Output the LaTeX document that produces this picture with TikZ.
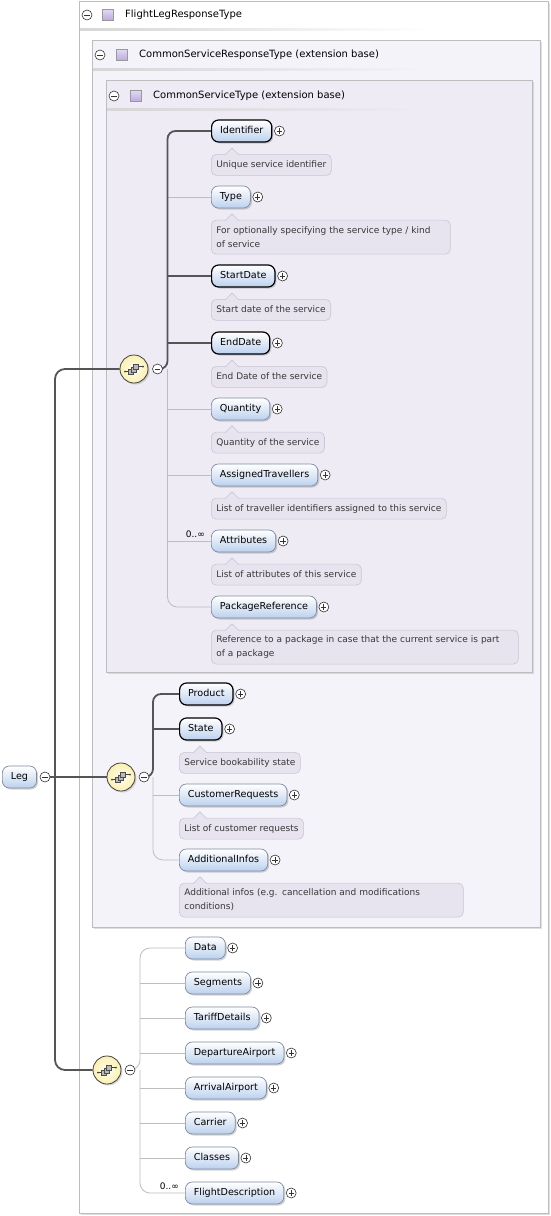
\documentclass[tikz,border=0pt]{standalone}
\usepackage{fontspec}
\newfontfamily\dv{DejaVu Sans}
\usetikzlibrary{shadows,calc}
\pgfdeclarelayer{bg}
\pgfdeclarelayer{lines}
\pgfsetlayers{bg,lines,main}
\definecolor{elembot}{HTML}{BCD1EE}
\definecolor{elemborder}{HTML}{7F8CA0}
\definecolor{docfill}{HTML}{E7E3EF}
\definecolor{docborder}{HTML}{C9C5D5}
\definecolor{boxAfill}{HTML}{FFFFFF}
\definecolor{boxBfill}{HTML}{F5F3FA}
\definecolor{boxCfill}{HTML}{EEEBF5}
\definecolor{boxborder}{HTML}{BDBDBD}
\definecolor{mandline}{HTML}{555555}
\definecolor{optline}{HTML}{BDBDBD}
\definecolor{seqin}{HTML}{FFFEF0}
\definecolor{seqout}{HTML}{FBF0B0}
\definecolor{squarefill}{HTML}{BBA9E0}
\tikzset{
  base/.style={font=\dv\fontsize{9}{11}\selectfont},
  elem/.style={font=\dv\fontsize{9.6}{11}\selectfont, rounded corners=7pt, minimum height=22pt, inner xsep=8.5pt, inner ysep=0pt,
    top color=white, bottom color=elembot, draw=elemborder, line width=0.7pt,
    drop shadow={shadow xshift=1.5pt, shadow yshift=-1.5pt, opacity=0.35},
    anchor=west, text height=7pt, text depth=2pt},
  reqelem/.style={elem, draw=black, line width=1.2pt},
  doc/.style={base, rounded corners=5pt, fill=docfill, draw=docborder, line width=0.6pt,
    anchor=north west, inner xsep=5pt, inner ysep=3pt, minimum height=21pt, text=black!78,
    align=left, text height=7pt, text depth=2pt},
  doctwo/.style={doc, text width=#1, minimum height=34pt, text height=, text depth=,
    font=\dv\fontsize{9}{14}\selectfont},
  iconbase/.style={circle, draw=black!80, fill=white, minimum size=10pt, inner sep=0pt, line width=0.6pt},
  minusicon/.style={iconbase, path picture={
    \draw[line width=0.7pt] ([xshift=-2.6pt]path picture bounding box.center) -- ([xshift=2.6pt]path picture bounding box.center);}},
  plusicon/.style={iconbase, path picture={
    \draw[line width=0.7pt] ([xshift=-2.6pt]path picture bounding box.center) -- ([xshift=2.6pt]path picture bounding box.center);
    \draw[line width=0.7pt] ([yshift=-2.6pt]path picture bounding box.center) -- ([yshift=2.6pt]path picture bounding box.center);}},
  seq/.style={circle, minimum size=28pt, inner sep=0pt, draw=black!75, line width=0.8pt,
    inner color=seqin, outer color=seqout,
    drop shadow={shadow xshift=1.5pt, shadow yshift=-1.5pt, opacity=0.3},
    path picture={
      \coordinate (pc) at (path picture bounding box.center);
      \draw[black!75, line width=0.6pt] ([xshift=-9pt,yshift=-2.5pt]pc) -- ([xshift=-4pt,yshift=-2.5pt]pc);
      \fill[black!75] ([xshift=-9pt,yshift=-2.5pt]pc) circle (1pt);
      \draw[black!75, line width=0.6pt] ([xshift=4pt,yshift=2.5pt]pc) -- ([xshift=9pt,yshift=2.5pt]pc);
      \fill[black!75] ([xshift=9pt,yshift=2.5pt]pc) circle (1pt);
      \filldraw[fill=gray!55, draw=black!70, line width=0.5pt] ([xshift=-5.5pt,yshift=-5.5pt]pc) rectangle ([xshift=-0.5pt,yshift=-0.5pt]pc);
      \filldraw[fill=gray!55, draw=black!70, line width=0.5pt] ([xshift=-3pt,yshift=-3pt]pc) rectangle ([xshift=2pt,yshift=2pt]pc);
      \filldraw[fill=gray!55, draw=black!70, line width=0.5pt] ([xshift=-0.5pt,yshift=-0.5pt]pc) rectangle ([xshift=4.5pt,yshift=4.5pt]pc);
    }},
  cbox/.style={rectangle, anchor=north west, draw=boxborder, line width=1.4pt, inner sep=0pt,
    drop shadow={shadow xshift=1.2pt, shadow yshift=-1.2pt, opacity=0.25}},
  hdrsq/.style={rectangle, minimum size=11pt, inner sep=0pt, draw=gray!80, line width=0.5pt,
    top color=squarefill!45, bottom color=squarefill},
  hdrtext/.style={font=\dv\fontsize{10}{12}\selectfont, anchor=west, inner sep=0pt},
  mult/.style={base, anchor=south east, inner sep=1pt},
  mand/.style={draw=mandline, line width=1.8pt},
  opt/.style={draw=optline, line width=0.8pt},
}
\newcommand\myelem[5]{%
  \node[#2] (#1) at (#3,#4) {#5};
  \node[plusicon] (#1p) at ([xshift=7pt]#1.east) {};
}
\newcommand\mydocptr[1]{%
  \filldraw[fill=docfill, draw=docborder, line width=0.6pt]
    ([xshift=14pt,yshift=-0.9pt]#1.north west) -- ([xshift=21pt,yshift=6pt]#1.north west)
    -- ([xshift=28pt,yshift=-0.9pt]#1.north west);
}
\newcommand\mydoc[3]{%
  \node[#2] (#1d) at ([yshift=-11.5pt]#1.south west) {#3};
  \mydocptr{#1d}
}
\begin{document}
\begin{tikzpicture}[x=1pt,y=-1pt]
\useasboundingbox (0,0) rectangle (550,1216);

% containers
\begin{pgfonlayer}{bg}
\fill[white] (0,0) rectangle (550,1216);
\node[cbox, fill=boxAfill, minimum width=469pt, minimum height=1212pt] (boxA) at (79,1) {};
\node[cbox, fill=boxBfill, minimum width=448pt, minimum height=887pt] (boxB) at (92,40) {};
\node[cbox, fill=boxCfill, minimum width=426pt, minimum height=592pt] (boxC) at (106,80) {};
\shade[left color=black!16, right color=boxAfill] (80,28.3) rectangle (430,30.3);
\shade[left color=black!16, right color=boxBfill] (93,68) rectangle (431,70);
\shade[left color=black!16, right color=boxCfill] (107,108) rectangle (428,110);
\end{pgfonlayer}

% headers
\node[minusicon] (hAm) at (87,15) {};
\node[hdrsq] (hAs) at (108,15) {};
\node[hdrtext] (hAt) at (125,15) {FlightLegResponseType};
\node[minusicon] (hBm) at (100,55) {};
\node[hdrsq] (hBs) at (122,55) {};
\node[hdrtext] (hBt) at (139,55) {CommonServiceResponseType (extension base)};
\node[minusicon] (hCm) at (114,96) {};
\node[hdrsq] (hCs) at (136,96) {};
\node[hdrtext] (hCt) at (153,96) {CommonServiceType (extension base)};

% Leg and sequences
\node[elem] (Leg) at (2,777) {Leg};
\node[minusicon] (Legm) at (45,777) {};
\node[seq] (seqA) at (134,369) {};
\node[minusicon] (seqAm) at (157.5,369) {};
\node[seq] (seqB) at (121,777) {};
\node[minusicon] (seqBm) at (144,777) {};
\node[seq] (seqC) at (107,1070) {};
\node[minusicon] (seqCm) at (130,1070) {};

\coordinate (legbus) at (55,777);
\coordinate (busA) at (167.5,369);
\coordinate (busB) at (153,777);
\coordinate (busC) at (140,1070);

% elements of sequence A
\myelem{Identifier}{reqelem}{211}{131}{Identifier}
\myelem{Type}{elem}{211}{197}{Type}
\myelem{StartDate}{reqelem}{211}{276}{StartDate}
\myelem{EndDate}{reqelem}{211}{343}{EndDate}
\myelem{Quantity}{elem}{211}{409}{Quantity}
\myelem{AssignedTravellers}{elem}{211}{475}{AssignedTravellers}
\myelem{Attributes}{elem}{211}{541}{Attributes}
\myelem{PackageReference}{elem}{211}{607}{PackageReference}
% elements of sequence B
\myelem{Product}{reqelem}{179}{694}{Product}
\myelem{State}{reqelem}{179}{729}{State}
\myelem{CustomerRequests}{elem}{179}{795}{CustomerRequests}
\myelem{AdditionalInfos}{elem}{179}{860}{AdditionalInfos}
% elements of sequence C
\myelem{Data}{elem}{185}{948}{Data}
\myelem{Segments}{elem}{185}{983}{Segments}
\myelem{TariffDetails}{elem}{185}{1018}{TariffDetails}
\myelem{DepartureAirport}{elem}{185}{1053}{DepartureAirport}
\myelem{ArrivalAirport}{elem}{185}{1088}{ArrivalAirport}
\myelem{Carrier}{elem}{185}{1123}{Carrier}
\myelem{Classes}{elem}{185}{1158}{Classes}
\myelem{FlightDescription}{elem}{185}{1193}{FlightDescription}

% connectors
\begin{pgfonlayer}{lines}
% Leg branch
\draw[mand] (Legm.east) -- (legbus) -- (seqB.west);
\draw[mand, rounded corners=10pt] (seqA.west) -| (legbus) |- (seqC.west);
% sequence A
\draw[opt] (busA |- Type.west) -- (Type.west);
\draw[opt] (busA |- Quantity.west) -- (Quantity.west);
\draw[opt] (busA |- AssignedTravellers.west) -- (AssignedTravellers.west);
\draw[opt] (busA |- Attributes.west) -- (Attributes.west);
\draw[opt, rounded corners=10pt] (busA) |- (PackageReference.west);
\draw[mand, rounded corners=8pt] (seqAm.east) -- (busA) |- (Identifier.west);
\draw[mand] (busA |- StartDate.west) -- (StartDate.west);
\draw[mand] (busA |- EndDate.west) -- (EndDate.west);
% sequence B
\draw[opt] (busB |- CustomerRequests.west) -- (CustomerRequests.west);
\draw[opt, rounded corners=10pt] (busB) |- (AdditionalInfos.west);
\draw[mand, rounded corners=8pt] (seqBm.east) -- (busB) |- (Product.west);
\draw[mand] (busB |- State.west) -- (State.west);
% sequence C
\draw[opt, rounded corners=10pt] (seqCm.east) -- (busC) |- (Data.west);
\draw[opt, rounded corners=10pt] (busC) |- (FlightDescription.west);
\draw[opt] (busC |- Segments.west) -- (Segments.west);
\draw[opt] (busC |- TariffDetails.west) -- (TariffDetails.west);
\draw[opt] (busC |- DepartureAirport.west) -- (DepartureAirport.west);
\draw[opt] (busC |- ArrivalAirport.west) -- (ArrivalAirport.west);
\draw[opt] (busC |- Carrier.west) -- (Carrier.west);
\draw[opt] (busC |- Classes.west) -- (Classes.west);
\end{pgfonlayer}

% documentation
\mydoc{Identifier}{doc}{Unique service identifier}
\mydoc{Type}{doctwo=229pt}{\mbox{For optionally specifying the service type / kind}\\\mbox{of service}}
\mydoc{StartDate}{doc}{Start date of the service}
\mydoc{EndDate}{doc}{End Date of the service}
\mydoc{Quantity}{doc}{Quantity of the service}
\mydoc{AssignedTravellers}{doc}{List of traveller identifiers assigned to this service}
\mydoc{Attributes}{doc}{List of attributes of this service}
\mydoc{PackageReference}{doctwo=297pt}{\mbox{Reference to a package in case that the current service is part}\\\mbox{of a package}}
\mydoc{State}{doc}{Service bookability state}
\mydoc{CustomerRequests}{doc}{List of customer requests}
\mydoc{AdditionalInfos}{doctwo=274pt}{\mbox{Additional infos (e.g. cancellation and modifications}\\\mbox{conditions)}}

\node[mult] (Attributesm) at ([xshift=-5pt,yshift=2pt]Attributes.west) {0..∞};
\node[mult] (FlightDescriptionm) at ([xshift=-5pt,yshift=2pt]FlightDescription.west) {0..∞};
\end{tikzpicture}
\end{document}
